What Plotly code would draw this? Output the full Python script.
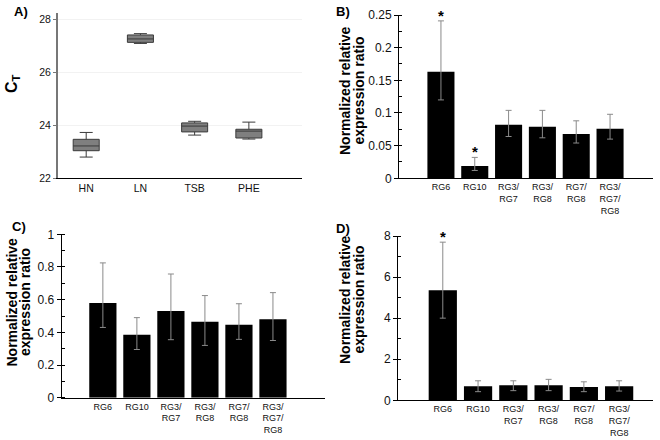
import plotly.graph_objects as go

FONT = "Arial, Liberation Sans, sans-serif"

# Panel A: Ct box plots
a_cats = ["HN", "LN", "TSB", "PHE"]
a_lower = [22.79, 27.08, 23.62, 23.47]
a_q1 = [23.03, 27.12, 23.74, 23.51]
a_median = [23.21, 27.25, 23.96, 23.77]
a_q3 = [23.46, 27.40, 24.08, 23.84]
a_upper = [23.72, 27.45, 24.14, 24.11]

# Bar panels
cats = ["RG6", "RG10", "RG3/<br>RG7", "RG3/<br>RG8", "RG7/<br>RG8", "RG3/<br>RG7/<br>RG8"]

b_vals = [0.163, 0.019, 0.082, 0.079, 0.068, 0.076]
b_hi = [0.241, 0.032, 0.104, 0.104, 0.088, 0.098]
b_lo = [0.120, 0.012, 0.064, 0.062, 0.054, 0.060]
b_star = ["*", "*", "", "", "", ""]

c_vals = [0.58, 0.385, 0.53, 0.465, 0.447, 0.48]
c_hi = [0.825, 0.49, 0.757, 0.625, 0.575, 0.643]
c_lo = [0.43, 0.295, 0.355, 0.32, 0.357, 0.35]

d_vals = [5.36, 0.69, 0.73, 0.73, 0.65, 0.69]
d_hi = [7.70, 0.95, 0.95, 1.02, 0.90, 0.95]
d_lo = [4.00, 0.42, 0.47, 0.47, 0.42, 0.45]
d_star = ["*", "", "", "", "", ""]

fig = go.Figure()

fig.add_trace(go.Box(
    x=a_cats, q1=a_q1, median=a_median, q3=a_q3,
    lowerfence=a_lower, upperfence=a_upper,
    fillcolor="#7f7f7f", line=dict(color="#3a3a3a", width=1),
    width=0.48, whiskerwidth=0.5, boxpoints=False,
    xaxis="x", yaxis="y", showlegend=False,
))


def add_bars(vals, hi, lo, xa, ya):
    fig.add_trace(go.Bar(
        x=cats, y=vals, width=0.8,
        marker=dict(color="#000000", line=dict(width=0)),
        error_y=dict(type="data", symmetric=False,
                     array=[h - v for h, v in zip(hi, vals)],
                     arrayminus=[v - l for v, l in zip(vals, lo)],
                     color="#8a8a8a", thickness=1, width=3),
        xaxis=xa, yaxis=ya, showlegend=False,
    ))


add_bars(b_vals, b_hi, b_lo, "x2", "y2")
add_bars(c_vals, c_hi, c_lo, "x3", "y3")
add_bars(d_vals, d_hi, d_lo, "x4", "y4")

annotations = []
for cat, h, s in zip(cats, b_hi, b_star):
    if s:
        annotations.append(dict(x=cat, y=h, xref="x2", yref="y2", text="<b>%s</b>" % s, showarrow=False,
                                yanchor="bottom", yshift=-5, font=dict(family=FONT, size=15, color="#000")))
for cat, h, s in zip(cats, d_hi, d_star):
    if s:
        annotations.append(dict(x=cat, y=h, xref="x4", yref="y4", text="<b>%s</b>" % s, showarrow=False,
                                yanchor="bottom", yshift=-5, font=dict(family=FONT, size=15, color="#000")))

# panel labels
for txt, px, py in [("A)", 12, 11), ("B)", 334, 11), ("C)", 10, 226), ("D)", 334, 228)]:
    annotations.append(dict(x=px / 660, y=1 - py / 440, xref="paper", yref="paper", text="<b>%s</b>" % txt,
                            showarrow=False, xanchor="left", yanchor="middle",
                            font=dict(family=FONT, size=13, color="#000")))

# y titles
annotations.append(dict(x=12 / 660, y=1 - 84 / 440, xref="paper", yref="paper", text="<b>C<sub>T</sub></b>",
                        textangle=-90, showarrow=False, xanchor="center", yanchor="middle",
                        font=dict(family=FONT, size=16, color="#000")))
title_lines = ["<b>Normalized relative</b>", "<b>expression ratio</b>"]
for (x1, x2, py) in [(345, 358.5, 91), (11.5, 25, 302), (345, 358.5, 300)]:
    for line, px in zip(title_lines, (x1, x2)):
        annotations.append(dict(x=px / 660, y=1 - py / 440, xref="paper", yref="paper", text=line,
                                textangle=-90, showarrow=False, xanchor="center", yanchor="middle",
                                font=dict(family=FONT, size=14, color="#000")))


def bar_xaxis(dom, rng, anchor):
    return dict(domain=dom, range=rng, anchor=anchor, showline=True, linecolor="#000", linewidth=1,
                ticks="", showgrid=False, zeroline=False, tickangle=0, automargin=False,
                tickfont=dict(family=FONT, size=9, color="#111"), fixedrange=True)


def bar_yaxis(dom, rng, dtick, minor, anchor, fmt):
    return dict(domain=dom, range=rng, anchor=anchor, showline=True, linecolor="#000", linewidth=1,
                ticks="outside", ticklen=4, tickcolor="#000", dtick=dtick, tick0=0,
                minor=dict(ticks="inside", ticklen=3, dtick=minor, tickcolor="#000", showgrid=False),
                showgrid=False, zeroline=False, tickformat=fmt, automargin=False,
                tickfont=dict(family=FONT, size=12, color="#111"), fixedrange=True)


fig.update_layout(
    width=660, height=440, margin=dict(l=0, r=0, t=0, b=0, autoexpand=False),
    paper_bgcolor="white", plot_bgcolor="white",
    font=dict(family=FONT, color="#000"),
    bargap=0.2, showlegend=False,
    xaxis=dict(domain=[58 / 660, 302 / 660], range=[-0.52, 3.98], anchor="y", showline=True,
               linecolor="#000", linewidth=1, ticks="", showgrid=False, zeroline=False, automargin=False,
               tickfont=dict(family=FONT, size=10.5, color="#111")),
    yaxis=dict(domain=[1 - 178 / 440, 1 - 12.7 / 440], range=[22, 28.24], anchor="x",
               showline=True, linecolor="#777", linewidth=2, ticks="outside", ticklen=3,
               tickcolor="#777", dtick=2, showgrid=True, gridcolor="#f2f2f2", zeroline=False,
               automargin=False, tickfont=dict(family=FONT, size=10.5, color="#111")),
    xaxis2=bar_xaxis([399 / 660, 653 / 660], [-1.24, 6.27], "y2"),
    yaxis2=bar_yaxis([1 - 178.3 / 440, 1 - 15 / 440], [0, 0.25], 0.05, 0.025, "x2", "~g"),
    xaxis3=bar_xaxis([61.7 / 660, 325 / 660], [-1.21, 6.53], "y3"),
    yaxis3=bar_yaxis([1 - 397.7 / 440, 1 - 234.3 / 440], [0, 1], 0.2, 0.1, "x3", "~g"),
    xaxis4=bar_xaxis([398 / 660, 653 / 660], [-1.27, 5.96], "y4"),
    yaxis4=bar_yaxis([1 - 400.3 / 440, 1 - 236 / 440], [0, 8], 2, 1, "x4", "~g"),
    annotations=annotations,
)

fig.write_html("out.html", config={"displayModeBar": False, "staticPlot": True},
               post_script="document.body.style.margin='0';")
